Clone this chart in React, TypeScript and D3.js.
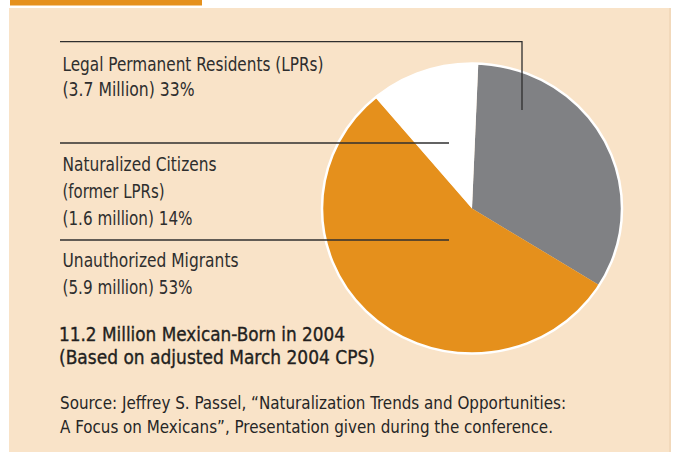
import React from 'react'
import * as d3 from 'd3'

const W = 674
const H = 452

// slice shares as drawn (clockwise from just right of 12 o'clock)
const sliceNames = ['LPRs', 'Unauthorized', 'Naturalized']
const sliceShares = [33.2, 55.0, 11.8]
const sliceColors = ['#808184', '#e5901c', '#ffffff']

const lprLines = ['Legal Permanent Residents (LPRs)', '(3.7 Million) 33%']
const natLines = ['Naturalized Citizens', '(former LPRs)', '(1.6 million) 14%']
const unaLines = ['Unauthorized Migrants', '(5.9 million) 53%']
const titleLines = ['11.2 Million Mexican-Born in 2004', '(Based on adjusted March 2004 CPS)']
const sourceLines = [
  'Source: Jeffrey S. Passel, \u201cNaturalization Trends and Opportunities:',
  'A Focus on Mexicans\u201d, Presentation given during the conference.'
]

// measured text widths so the condensed face is imitated
const lprWidths = [261, 132]
const natWidths = [154, 102, 130]
const unaWidths = [176, 130]
const titleWidths = [286, 316]
const sourceWidths = [506, 493]

const font = '"Liberation Sans Narrow", "DejaVu Sans Condensed", Roboto, "Liberation Sans", sans-serif'

const cx = 472
const cy = 208.5
const r = 150

export default function App() {
  const pie = d3.pie<number>()
    .sort(null)
    .value(d => d)
    .startAngle(2.4 * Math.PI / 180)
    .endAngle(2.4 * Math.PI / 180 + Math.PI * 2)
  const arcs = pie(sliceShares)
  const arcFn = d3.arc<d3.PieArcDatum<number>>().innerRadius(0).outerRadius(r)

  const block = (lines: string[], widths: number[], x: number, y0: number, step: number, size: number, color: string, sw = 0) =>
    lines.map((t, i) => (
      <text key={t} x={x} y={y0 + i * step} fontSize={size} fill={color}
        stroke={sw ? color : 'none'} strokeWidth={sw}
        textLength={widths[i]} lengthAdjust="spacingAndGlyphs">{t}</text>
    ))

  return (
    <div style={{ position: 'absolute', left: 0, top: 0 }}>
      <svg width={W} height={H} style={{ display: 'block', fontFamily: font }}>
        <rect x={0} y={0} width={W} height={H} fill="#ffffff" />
        <rect x={9} y={8} width={660} height={H - 8} fill="#f9e3c8" />
        <rect x={669} y={8} width={2} height={H - 8} fill="#f2d9bb" />
        <rect x={10} y={0} width={192} height={5.5} fill="#e5901c" />

        <g transform={`translate(${cx},${cy}) scale(1,0.967)`}>
          {arcs.map((a, i) => (
            <path key={sliceNames[i]} d={arcFn(a) || ''} fill={sliceColors[i]} />
          ))}
          <circle r={r} fill="none" stroke="#ffffff" strokeWidth={2.5} />
        </g>

        <g stroke="#2f2f2f" strokeWidth={1.3} fill="none">
          <path d="M60,41.7H522V110" />
          <line x1={60} x2={449} y1={143} y2={143} />
          <line x1={60} x2={449} y1={240} y2={240} />
        </g>

        <g>
          {block(lprLines, lprWidths, 62.5, 70.5, 25, 19.5, '#2e2e2e')}
          {block(natLines, natWidths, 62.5, 171, 27, 19.5, '#2e2e2e')}
          {block(unaLines, unaWidths, 62.5, 267, 27, 19.5, '#2e2e2e')}
          {block(titleLines, titleWidths, 59, 340.5, 23.5, 20, '#231f20', 0.35)}
          {block(sourceLines, sourceWidths, 60, 408.5, 24, 17.5, '#262626')}
        </g>
      </svg>
    </div>
  )
}
